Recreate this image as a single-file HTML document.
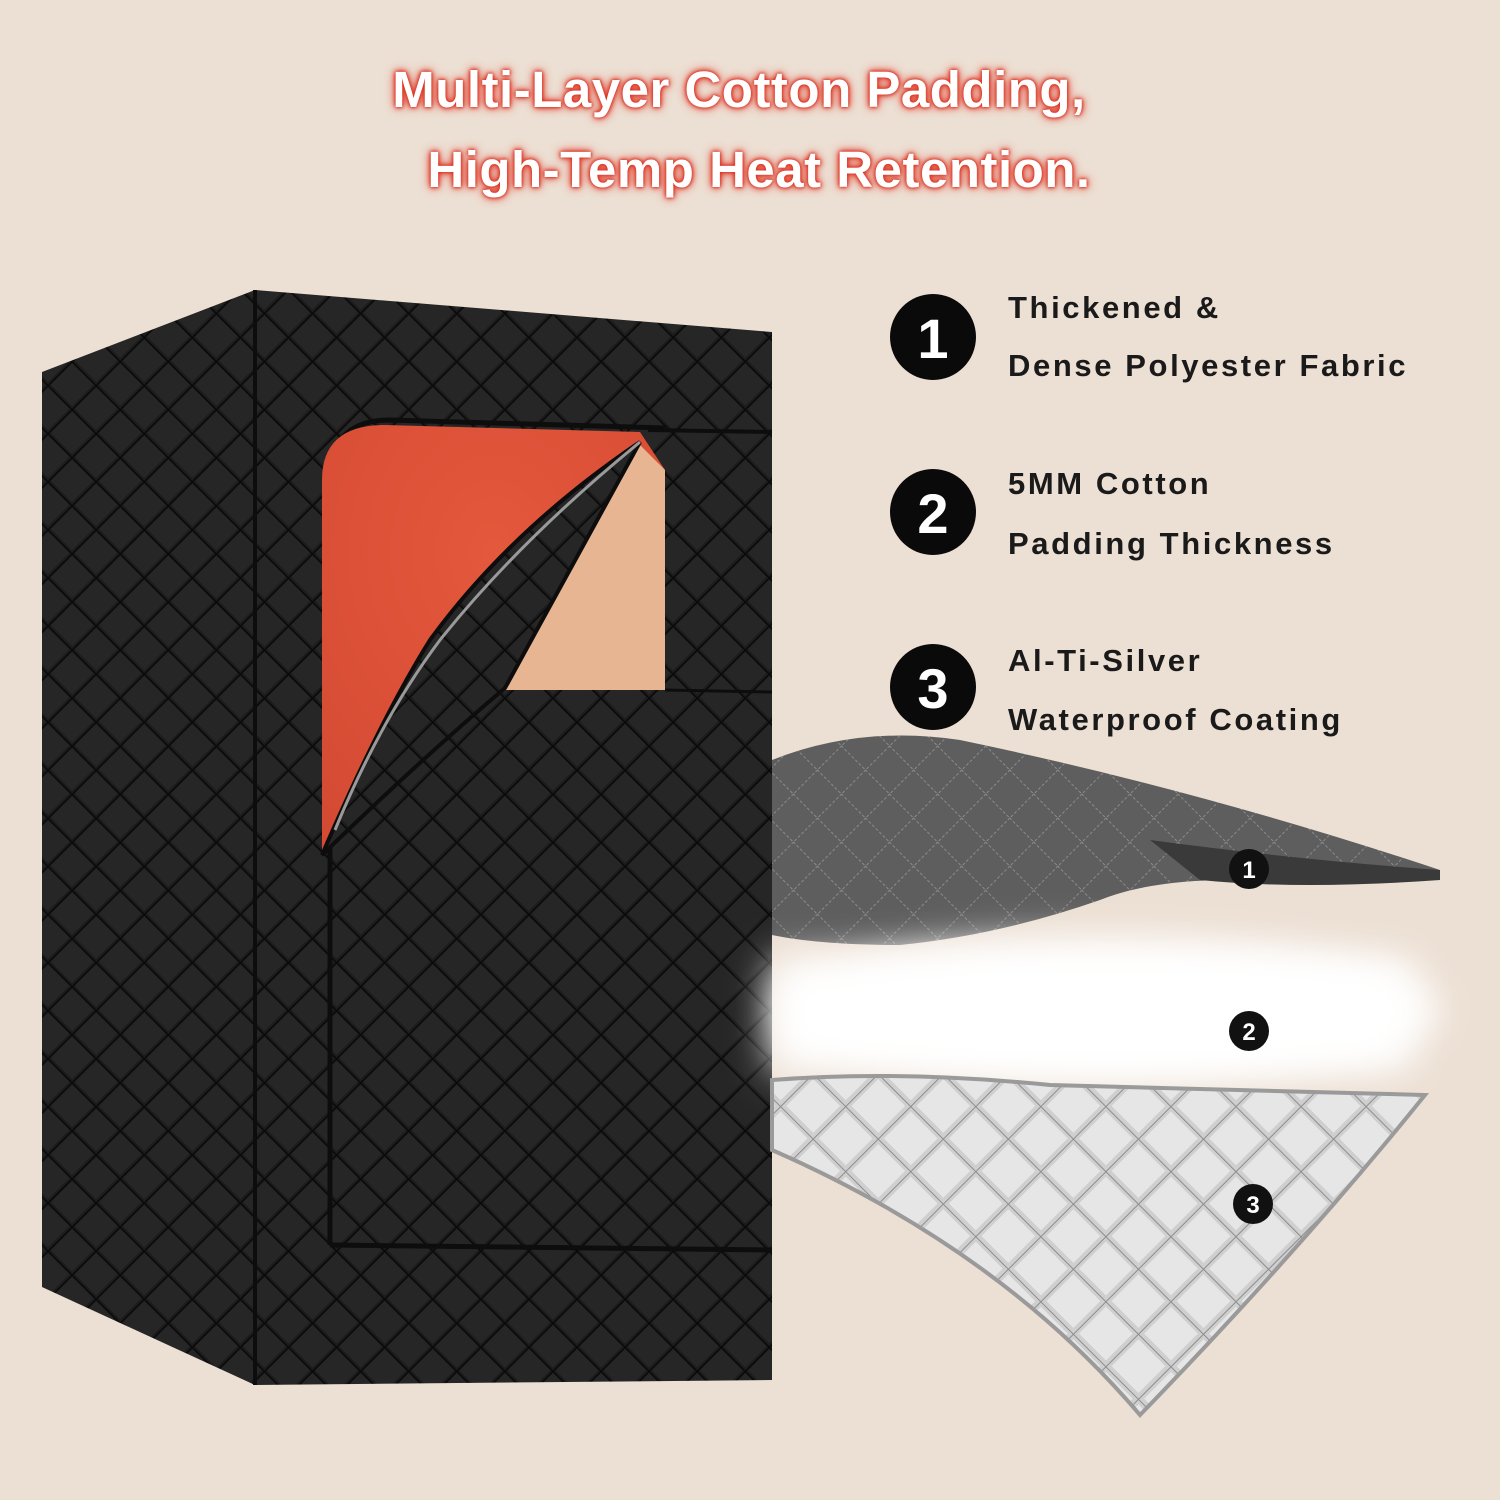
<!DOCTYPE html>
<html><head><meta charset="utf-8"><style>
html,body{margin:0;padding:0;background:#ecdfd3;}
.wrap{position:relative;width:1500px;height:1500px;overflow:hidden;background:#ecdfd3;font-family:"Liberation Sans",sans-serif;}
.title{position:absolute;left:0;width:1478px;text-align:center;color:#fff;font-weight:bold;font-size:51px;text-shadow:0 0 6px #e0301e,0 0 10px #e0301e,0 0 3px #c01a10;letter-spacing:0.5px}
.lbl{position:absolute;left:1008px;font-weight:bold;font-size:31px;color:#1a1a1a;letter-spacing:2.6px}
</style></head><body><div class="wrap">
<div class="title" style="top:60px">Multi-Layer Cotton Padding,</div>
<div class="title" style="top:140px;left:20px">High-Temp Heat Retention.</div>
<svg width="1500" height="1500" style="position:absolute;left:0;top:0">
<defs>
<pattern id="dia" width="34" height="34" patternUnits="userSpaceOnUse" patternTransform="rotate(45)">
<rect width="34" height="34" fill="#1c1c1c"/>
<rect x="2" y="2" width="30" height="30" fill="#262626"/>
<path d="M0 0H34M0 0V34" stroke="#0a0a0a" stroke-width="3"/>
</pattern>
<pattern id="gr" width="34" height="34" patternUnits="userSpaceOnUse" patternTransform="rotate(45)">
<rect width="34" height="34" fill="#5e5e5e"/>
<path d="M0 0H34M0 0V34" stroke="#8a8a8a" stroke-width="2" stroke-dasharray="3 2"/>
</pattern>
<pattern id="sv" width="46" height="46" patternUnits="userSpaceOnUse" patternTransform="rotate(45)">
<rect width="46" height="46" fill="#cfcfcf"/>
<rect x="4" y="4" width="38" height="38" fill="#e6e6e6"/>
<path d="M0 0H46M0 0V46" stroke="#8d8d8d" stroke-width="2"/>
</pattern>
<radialGradient id="red" cx="0.5" cy="0.3" r="0.8"><stop offset="0" stop-color="#e4583c"/><stop offset="1" stop-color="#d44a33"/></radialGradient>
<filter id="blur" x="-20%" y="-50%" width="140%" height="200%"><feGaussianBlur stdDeviation="20"/></filter>
</defs>
<polygon points="42,372 255,290 255,1385 42,1287" fill="url(#dia)"/>
<polygon points="255,290 772,332 772,1380 255,1385" fill="url(#dia)"/>
<line x1="255" y1="290" x2="255" y2="1385" stroke="#0d0d0d" stroke-width="4"/>
<path d="M330,1245 L330,480 Q330,420 390,420 L665,428" fill="none" stroke="#0d0d0d" stroke-width="5"/>
<path d="M330,1245 L772,1250" stroke="#0d0d0d" stroke-width="5"/>
<path d="M322,850 L322,480 Q322,425 385,425 L640,432 L665,470 L665,690 L500,690 Z" fill="url(#red)"/>
<path d="M500,690 L665,690 L665,470 L640,445 Q570,560 500,690 Z" fill="#e8b592"/>
<path d="M322,855 Q380,720 430,640 Q510,530 640,442 Q570,570 505,688 Q420,760 322,855 Z" fill="url(#dia)" stroke="#0d0d0d" stroke-width="4"/>
<path d="M640,442 Q520,540 440,640 Q380,720 335,830" fill="none" stroke="#9a9a9a" stroke-width="3"/>
<path d="M648,430 L772,432" stroke="#0d0d0d" stroke-width="4"/>
<path d="M665,690 L772,692" stroke="#0d0d0d" stroke-width="3"/>
<path d="M772,760 Q860,725 960,740 Q1200,790 1440,870 Q1350,880 1230,880 Q1150,880 1100,900 Q1000,935 900,945 Q820,945 772,935 Z" fill="url(#gr)"/>
<path d="M1150,840 Q1300,860 1440,870 L1440,880 Q1300,890 1200,880 Z" fill="#3a3a3a"/>
<ellipse cx="1110" cy="1010" rx="330" ry="70" fill="#fff" filter="url(#blur)"/>
<rect x="772" y="960" width="640" height="110" fill="#fff" filter="url(#blur)"/>
<path d="M772,1080 Q900,1070 1050,1085 Q1250,1090 1425,1095 Q1300,1250 1140,1415 Q1000,1250 772,1150 Z" fill="url(#sv)" stroke="#9a9a9a" stroke-width="4"/>
<g font-family="Liberation Sans" font-weight="bold" font-size="24" fill="#fff" text-anchor="middle">
<circle cx="1249" cy="869" r="20" fill="#111"/><text x="1249" y="878">1</text>
<circle cx="1249" cy="1031" r="20" fill="#111"/><text x="1249" y="1040">2</text>
<circle cx="1253" cy="1204" r="20" fill="#111"/><text x="1253" y="1213">3</text>
</g>
<g font-family="Liberation Sans" font-weight="bold" font-size="56" fill="#fff" text-anchor="middle">
<circle cx="933" cy="337" r="43" fill="#0a0a0a"/><text x="933" y="358">1</text>
<circle cx="933" cy="512" r="43" fill="#0a0a0a"/><text x="933" y="533">2</text>
<circle cx="933" cy="687" r="43" fill="#0a0a0a"/><text x="933" y="708">3</text>
</g>
</svg>
<div class="lbl" style="top:290px">Thickened &amp;</div>
<div class="lbl" style="top:348px">Dense Polyester Fabric</div>
<div class="lbl" style="top:466px">5MM Cotton</div>
<div class="lbl" style="top:526px">Padding Thickness</div>
<div class="lbl" style="top:643px">Al-Ti-Silver</div>
<div class="lbl" style="top:702px">Waterproof Coating</div>
</div></body></html>
